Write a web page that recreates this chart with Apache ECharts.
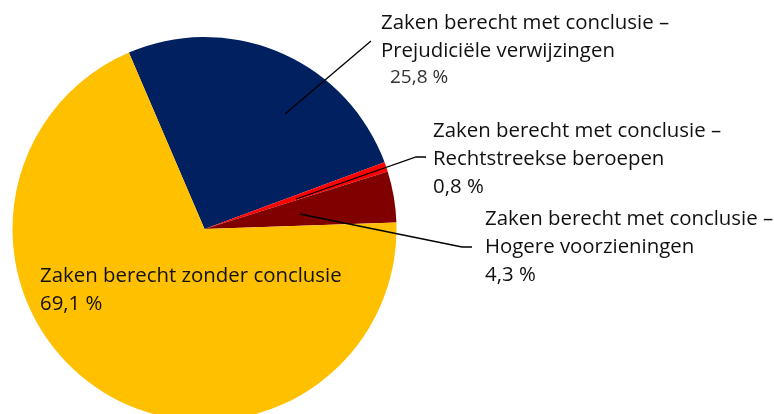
<!DOCTYPE html>
<html>
<head>
<meta charset="utf-8">
<script src="https://cdn.jsdelivr.net/npm/echarts@6/dist/echarts.min.js"></script>
<style>
html,body{margin:0;padding:0;background:#fff;}
#c{width:774px;height:414px;}
</style>
</head>
<body>
<div id="c"></div>
<script>
// Data
var names = [
  'Zaken berecht met conclusie –\nPrejudiciële verwijzingen',
  'Zaken berecht met conclusie –\nRechtstreekse beroepen',
  'Zaken berecht met conclusie –\nHogere voorzieningen',
  'Zaken berecht zonder conclusie'
];
var values = [25.8, 0.8, 4.3, 69.1];
var colors = ['#002060', '#FF0000', '#800000', '#FFC000'];

// Label layout (positions only)
var labelPos = [
  {x: 381, y: 9,   line: [[285,114],[371,41],[371,41]]},
  {x: 433, y: 117, line: [[296,199],[416,157],[426,157]]},
  {x: 485, y: 205, line: [[300,214],[462,247],[472,247]]},
  {x: 40,  y: 262, line: null}
];

function pct(v){ return v.toFixed(1).replace('.', ',') + ' %'; }

var pieBase = {
  type: 'pie',
  center: [204.5, 229],
  radius: 192,
  startAngle: 113.2,
  clockwise: true,
  avoidLabelOverlap: false,
  emphasis: {disabled: true},
  silent: true
};

var sliceData = names.map(function(n, i){
  return {name: n, value: values[i], itemStyle: {color: colors[i], borderWidth: 0}};
});

var labelData = names.map(function(n, i){
  var lines = n.split('\n').map(function(l){ return '{a|' + l + '}'; });
  lines.push(i === 0 ? '{p0|' + pct(values[i]) + '}' : '{p|' + pct(values[i]) + '}');
  return {
    name: n,
    value: values[i],
    itemStyle: {color: 'rgba(0,0,0,0)', borderWidth: 0},
    label: {formatter: lines.join('\n')},
    labelLine: {show: labelPos[i].line !== null}
  };
});

var chart = echarts.init(document.getElementById('c'), null, {renderer: 'canvas'});
chart.setOption({
  animation: false,
  series: [
    Object.assign({}, pieBase, {
      z: 2,
      label: {show: false},
      labelLine: {show: false},
      data: sliceData
    }),
    Object.assign({}, pieBase, {
      z: 3,
      label: {
        show: true,
        position: 'outside',
        fontFamily: 'Open Sans',
        rich: {
          a:  {fontFamily: 'Open Sans', fontSize: 20.4, lineHeight: 28, color: '#111'},
          p:  {fontFamily: 'Open Sans', fontSize: 20.4, lineHeight: 28, color: '#111'},
          p0: {fontFamily: 'Open Sans', fontSize: 19, lineHeight: 26, color: '#333', padding: [0,0,0,9]}
        }
      },
      labelLine: {
        show: true,
        smooth: false,
        lineStyle: {color: '#000', width: 1.3}
      },
      labelLayout: function(params){
        var p = labelPos[params.dataIndex];
        var r = {x: p.x, y: p.y, align: 'left', verticalAlign: 'top'};
        if (p.line) r.labelLinePoints = p.line;
        return r;
      },
      data: labelData
    })
  ]
});
</script>
</body>
</html>
